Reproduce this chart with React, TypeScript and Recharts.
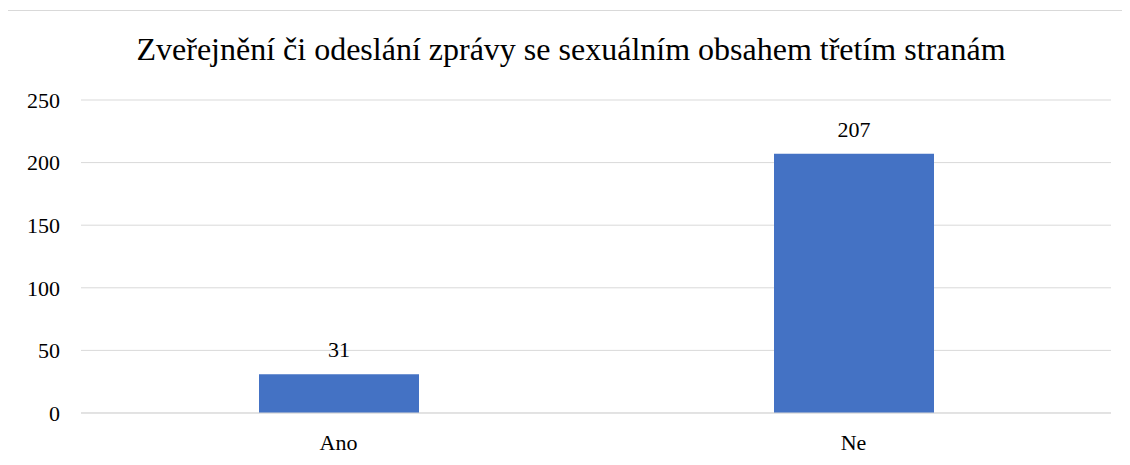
import { BarChart, Bar, XAxis, YAxis, CartesianGrid, LabelList } from 'recharts';

const categories = ['Ano', 'Ne'];
const counts = [31, 207];
const yTicks = [0, 50, 100, 150, 200, 250];

const data = categories.map((name, i) => ({ name, value: counts[i] }));

const font = "'Liberation Serif', 'Times New Roman', serif";

// body keeps its 8px margin, so everything below is placed 8px up-left
export default function App() {
    return (
        <div style={{ position: 'relative', width: 1122, height: 457, background: '#fff', fontFamily: font }}>
            <div
                style={{
                    position: 'absolute',
                    left: -2,
                    top: 2,
                    width: 1130,
                    height: 460,
                    border: '1px solid #d9d9d9',
                    boxSizing: 'border-box'
                }}
            />
            <div
                style={{
                    position: 'absolute',
                    left: -2,
                    top: 23,
                    width: 1130,
                    textAlign: 'center',
                    fontFamily: font,
                    fontSize: 32,
                    color: '#000',
                    lineHeight: '36px',
                    whiteSpace: 'nowrap'
                }}
            >
                Zveřejnění či odeslání zprávy se sexuálním obsahem třetím stranám
            </div>
            <div style={{ position: 'absolute', left: -8, top: -8 }}>
                <BarChart
                    width={1130}
                    height={465}
                    data={data}
                    margin={{ top: 100, right: 19, left: 0, bottom: 0 }}
                    style={{ fontFamily: font }}
                >
                    <CartesianGrid stroke="#d9d9d9" vertical={false} />
                    <XAxis
                        dataKey="name"
                        height={52}
                        axisLine={{ stroke: '#d9d9d9' }}
                        tickLine={false}
                        tickSize={0}
                        tickMargin={21}
                        tick={{ fill: '#000', fontSize: 22, fontFamily: font }}
                    />
                    <YAxis
                        width={81}
                        domain={[0, 250]}
                        ticks={yTicks}
                        axisLine={false}
                        tickLine={false}
                        tickSize={0}
                        tickMargin={21}
                        tick={{ fill: '#000', fontSize: 22, fontFamily: font }}
                    />
                    <Bar dataKey="value" fill="#4472c4" barSize={160} isAnimationActive={false}>
                        <LabelList
                            dataKey="value"
                            position="top"
                            offset={17}
                            fill="#000"
                            fontSize={22}
                            fontFamily={font}
                        />
                    </Bar>
                </BarChart>
            </div>
        </div>
    );
}
